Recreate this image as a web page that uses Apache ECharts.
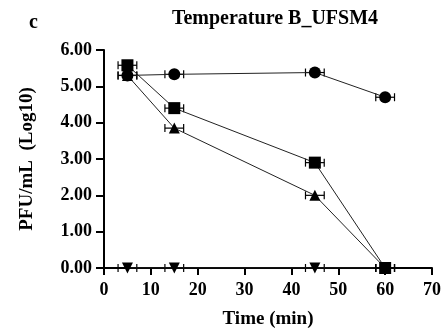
<!DOCTYPE html>
<html>
<head>
<meta charset="utf-8">
<script src="https://cdn.jsdelivr.net/npm/echarts@6/dist/echarts.min.js"></script>
<style>
  html, body { margin: 0; padding: 0; background: #fff; }
  #chart { width: 444px; height: 334px; }
</style>
</head>
<body>
<div id="chart"></div>
<script>
// time points (min) and Log10 PFU/mL for each series
const times = [5, 15, 45, 60];
const circleVals = [5.30, 5.33, 5.38, 4.70];
const squareVals = [5.58, 4.40, 2.90, 0];
const triangleVals = [5.30, 3.85, 2.00, 0];
const invTriangleVals = [0, 0, 0, 0];
const timeErr = [2, 2, 2, 2];

const font = 'Liberation Serif';
const ink = '#000';

const pairs = (vals) => times.map((t, i) => [t, vals[i]]);
const errPairs = (vals) => times.map((t, i) => [t, vals[i], timeErr[i]]);

// horizontal error bars with caps
function renderErr(params, api) {
  const x = api.value(0), y = api.value(1), e = api.value(2);
  const a = api.coord([x - e, y]);
  const b = api.coord([x + e, y]);
  const h = 4;
  const style = { stroke: ink, lineWidth: 1.2 };
  return {
    type: 'group',
    children: [
      { type: 'line', shape: { x1: a[0], y1: a[1], x2: b[0], y2: b[1] }, style },
      { type: 'line', shape: { x1: a[0], y1: a[1] - h, x2: a[0], y2: a[1] + h }, style },
      { type: 'line', shape: { x1: b[0], y1: b[1] - h, x2: b[0], y2: b[1] + h }, style }
    ]
  };
}

function lineSeries(name, vals, symbol, size, z, rotate) {
  return {
    name, type: 'line', data: pairs(vals), symbol, symbolSize: size,
    symbolRotate: rotate || 0, showAllSymbol: true, z,
    lineStyle: { color: '#222', width: 1 },
    itemStyle: { color: ink },
    animation: false
  };
}

function errSeries(vals, z) {
  return { type: 'custom', renderItem: renderErr, data: errPairs(vals), z, animation: false, silent: true };
}

const chart = echarts.init(document.getElementById('chart'));
chart.setOption({
  backgroundColor: '#fff',
  title: [
    { text: 'Temperature B_UFSM4', left: 270, top: 4, textAlign: 'center',
      textStyle: { fontFamily: font, fontWeight: 'bold', fontSize: 20, color: ink } },
    { text: 'c', left: 24, top: 8,
      textStyle: { fontFamily: font, fontWeight: 'bold', fontSize: 20, color: ink } }
  ],
  grid: { left: 104, right: 12, top: 50, bottom: 65 },
  xAxis: {
    type: 'value', min: 0, max: 70, interval: 10,
    name: 'Time (min)', nameLocation: 'middle', nameGap: 42,
    nameTextStyle: { fontFamily: font, fontWeight: 'bold', fontSize: 19, color: ink, verticalAlign: 'top' },
    axisLine: { lineStyle: { color: ink, width: 2 } },
    axisTick: { lineStyle: { color: ink, width: 2 }, length: 7 },
    axisLabel: { fontFamily: font, fontWeight: 'bold', fontSize: 18, color: ink, margin: 13 },
    splitLine: { show: false }
  },
  yAxis: {
    type: 'value', min: 0, max: 6, interval: 1,
    name: 'PFU/mL  (Log10)', nameLocation: 'middle', nameGap: 67, nameRotate: 90,
    nameTextStyle: { fontFamily: font, fontWeight: 'bold', fontSize: 19, color: ink },
    axisLine: { show: true, lineStyle: { color: ink, width: 2 } },
    axisTick: { show: true, lineStyle: { color: ink, width: 2 }, length: 8 },
    axisLabel: { fontFamily: font, fontWeight: 'bold', fontSize: 18, color: ink, margin: 12,
      formatter: (v) => v.toFixed(2) },
    splitLine: { show: false }
  },
  series: [
    errSeries(invTriangleVals, 2),
    lineSeries('inv', invTriangleVals, 'triangle', 11, 3, 180),
    errSeries(triangleVals, 4),
    lineSeries('tri', triangleVals, 'triangle', 11, 5),
    errSeries(circleVals, 6),
    lineSeries('circle', circleVals, 'circle', 12, 7),
    errSeries(squareVals, 8),
    lineSeries('square', squareVals, 'rect', 12, 9)
  ]
});
</script>
</body>
</html>
